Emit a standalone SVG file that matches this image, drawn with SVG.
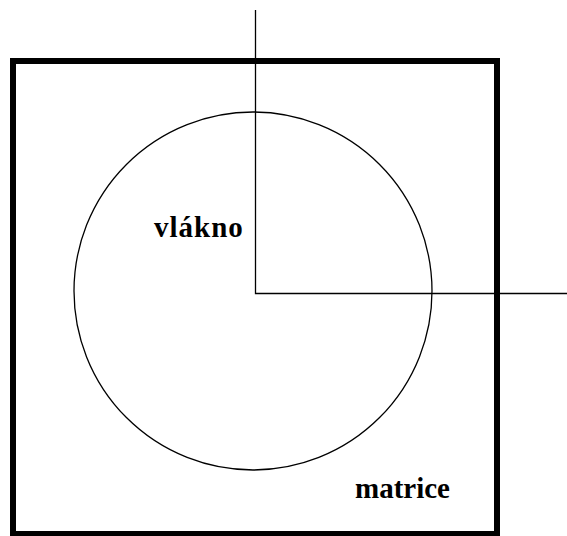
<svg xmlns="http://www.w3.org/2000/svg" width="567" height="536" viewBox="0 0 567 536">
<style>
.thin{fill:none;stroke:#000;stroke-width:1.3}
.lbl{font-family:"Liberation Serif",serif;font-weight:bold;font-size:29px;fill:#000}
</style>
<rect width="567" height="536" fill="#fff"/>
<g id="matrix">
<rect x="13" y="61" width="484" height="473" fill="none" stroke="#000" stroke-width="6"/>
<text class="lbl" x="355" y="498">matrice</text>
</g>
<g id="fiber">
<circle class="thin" cx="253" cy="291" r="179"/>
<text class="lbl" x="154" y="237" letter-spacing="1">vlákno</text>
</g>
<g id="connectors">
<polyline class="thin" points="255.5,10 255.5,293.5 567,293.5"/>
</g>
</svg>
